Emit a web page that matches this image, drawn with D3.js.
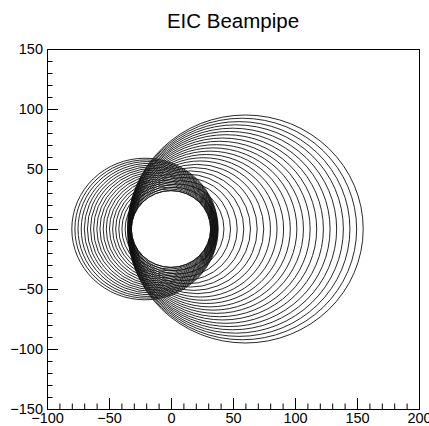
<!DOCTYPE html>
<html lang="en">
<head>
<meta charset="utf-8">
<title>EIC Beampipe</title>
<script type="text/javascript" src="https://d3js.org/d3.v7.min.js"></script>
<style>
  body { margin: 0; background: #fff; }
  text { font-family: "Liberation Sans", Arial, sans-serif; }
</style>
</head>
<body>
<div id="chart"></div>
<script type="text/javascript">

// circles of the beampipe cross sections: centre x and radius (y centre is 0)
var hadron_cx = [0, 2.6, 5.2, 7.8, 10.4, 13.0, 15.7, 18.3, 20.9, 23.5, 26.1, 28.7,
                 31.3, 33.9, 36.5, 39.1, 41.7, 44.3, 47.0, 49.6, 52.2, 54.8, 57.4, 60];
var hadron_r  = [32, 34.7, 37.5, 40.2, 43.0, 45.7, 48.4, 51.2, 53.9, 56.7, 59.4, 62.1,
                 64.9, 67.6, 70.3, 73.1, 75.8, 78.6, 81.3, 84.0, 86.8, 89.5, 92.3, 95];

var electron_cx = [0, -1.1, -2.2, -3.3, -4.4, -5.5, -6.6, -7.7, -8.8, -9.9,
                   -11.1, -12.2, -13.3, -14.4, -15.5, -16.6, -17.7, -18.8, -19.9, -21];
var electron_r  = [32, 33.4, 34.8, 36.3, 37.7, 39.1, 40.5, 41.9, 43.4, 44.8,
                   46.2, 47.6, 49.1, 50.5, 51.9, 53.3, 54.7, 56.2, 57.6, 59];

var x_ticks = [-100, -50, 0, 50, 100, 150, 200];
var y_ticks = [-150, -100, -50, 0, 50, 100, 150];

var w = 429, h = 426;

var svg = d3.select("#chart").append("svg")
    .attr("width", w)
    .attr("height", h);

var x = d3.scaleLinear().domain([-100, 200]).range([47, 419]);
var y = d3.scaleLinear().domain([-150, 150]).range([409, 49]);

// title
svg.append("text")
    .attr("x", 233)
    .attr("y", 27.5)
    .attr("text-anchor", "middle")
    .style("font-size", "20.5px")
    .text("EIC Beampipe");

// circles
var circles = [];
hadron_cx.forEach(function(c, i) { circles.push({cx: c, r: hadron_r[i]}); });
electron_cx.forEach(function(c, i) { circles.push({cx: c, r: electron_r[i]}); });

svg.append("g").selectAll("ellipse")
    .data(circles)
    .enter()
    .append("ellipse")
    .attr("cx", function(d) { return x(d.cx); })
    .attr("cy", y(0))
    .attr("rx", function(d) { return x(d.cx + d.r) - x(d.cx); })
    .attr("ry", function(d) { return y(0) - y(d.r); })
    .style("fill", "none")
    .style("stroke", "#111")
    .style("stroke-width", 0.9);

// minor ticks
var x_minor = d3.range(-100, 201, 10);
var y_minor = d3.range(-150, 151, 10);

svg.append("g")
    .attr("transform", "translate(0," + y.range()[0] + ")")
    .call(d3.axisBottom(x).tickValues(x_minor).tickSize(-5.5).tickSizeOuter(0).tickFormat(""))
    .call(function(g) { g.select(".domain").remove(); });

svg.append("g")
    .attr("transform", "translate(" + x.range()[0] + ",0)")
    .call(d3.axisLeft(y).tickValues(y_minor).tickSize(-5.5).tickSizeOuter(0).tickFormat(""))
    .call(function(g) { g.select(".domain").remove(); });

// major ticks with labels
var xAxis = svg.append("g")
    .attr("transform", "translate(0," + y.range()[0] + ")")
    .call(d3.axisBottom(x).tickValues(x_ticks).tickSize(-11).tickSizeOuter(0).tickPadding(4));
xAxis.select(".domain").remove();

var yAxis = svg.append("g")
    .attr("transform", "translate(" + x.range()[0] + ",0)")
    .call(d3.axisLeft(y).tickValues(y_ticks).tickSize(-11).tickSizeOuter(0).tickPadding(4));
yAxis.select(".domain").remove();

svg.selectAll(".tick text")
    .style("font-family", "'Liberation Sans', Arial, sans-serif")
    .style("font-size", "14.5px")
    .style("fill", "#000");

// frame
svg.append("rect")
    .attr("x", x.range()[0] + 0.5)
    .attr("y", y.range()[1] + 0.5)
    .attr("width", x.range()[1] - x.range()[0])
    .attr("height", y.range()[0] - y.range()[1])
    .style("fill", "none")
    .style("stroke", "#000")
    .style("stroke-width", 1);

</script>
</body>
</html>
